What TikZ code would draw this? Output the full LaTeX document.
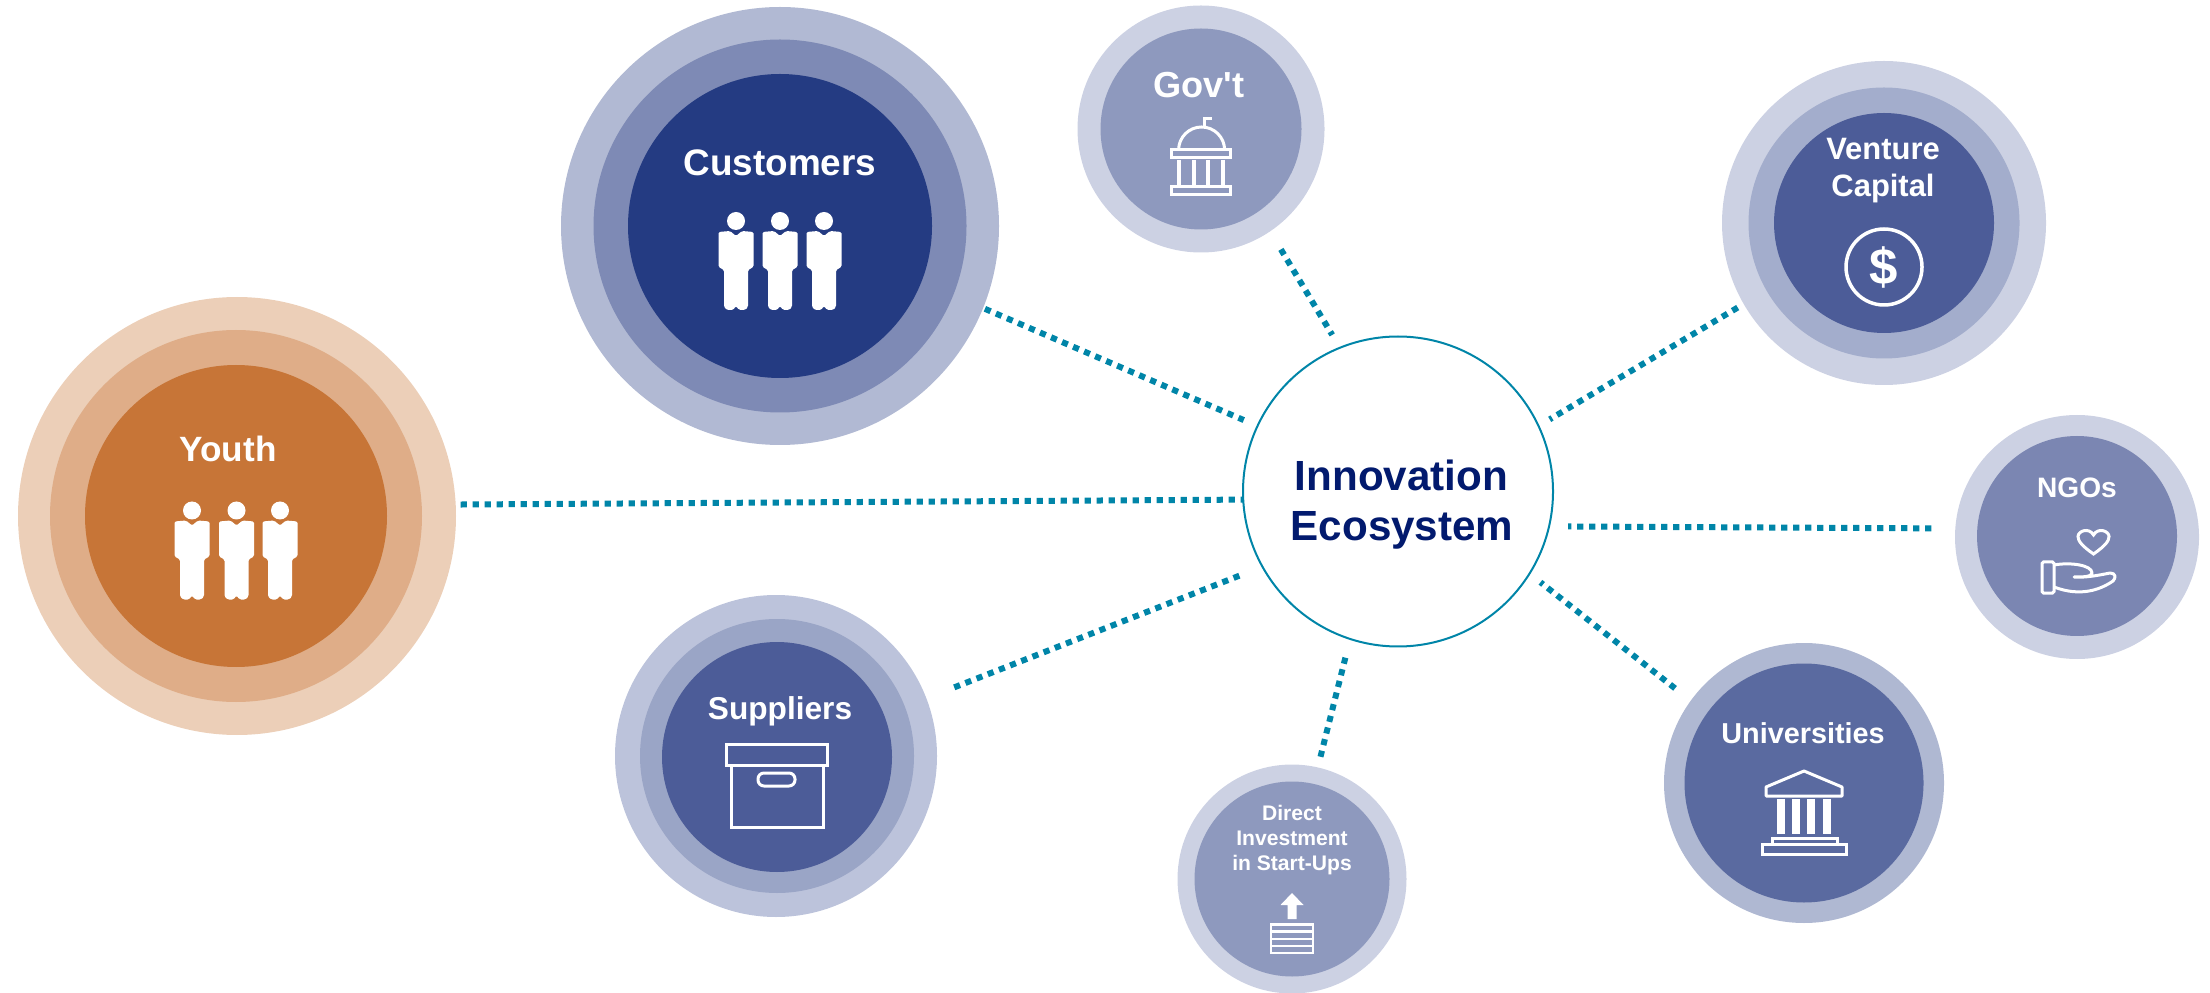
\documentclass[tikz,border=0pt]{standalone}
\usepackage{fontspec}
\setmainfont{Liberation Sans}
\usetikzlibrary{positioning}

\definecolor{linkblue}{HTML}{0085A8}
\definecolor{hubtext}{HTML}{021A6E}
\definecolor{youthA}{HTML}{ECCFB8}
\definecolor{youthB}{HTML}{DFAD88}
\definecolor{youthC}{HTML}{C77537}
\definecolor{custA}{HTML}{B1B9D3}
\definecolor{custB}{HTML}{7E8AB5}
\definecolor{custC}{HTML}{243B82}
\definecolor{paleA}{HTML}{CCD1E3}
\definecolor{paleB}{HTML}{8E99BE}
\definecolor{midB}{HTML}{A3ADCC}
\definecolor{midC}{HTML}{4C5C98}
\definecolor{ngoB}{HTML}{7B86B2}
\definecolor{suppA}{HTML}{BCC3DB}
\definecolor{suppB}{HTML}{9AA5C6}
\definecolor{uniA}{HTML}{AFB8D2}
\definecolor{uniB}{HTML}{5A6AA0}

\tikzset{
  ring/.style = {circle, inner sep=0pt, outer sep=0pt, minimum size=#1},
  link/.style = {draw=linkblue, line width=0.6mm, dash pattern=on 0.62mm off 0.58mm},
  iconline/.style = {draw=white, line width=0.3mm},
  lbl/.style = {text=white, font=\bfseries\fontsize{#1}{#1}\selectfont, inner sep=0pt, anchor=base},
  person/.pic = {
    \fill[white] (0,0) circle (9);
    \fill[white, rounded corners=0.15mm] (0,15) -- (-6,10) -- (-17.5,11) -- (-17.5,46) -- (-12,49)
      -- (-12,86) -- (-9,89) -- (-3,89) -- (0,85) -- (3,89) -- (9,89) -- (12,86)
      -- (12,49) -- (17.5,46) -- (17.5,11) -- (6,10) -- cycle;
  }
}

\begin{document}
\begin{tikzpicture}[x=0.1mm, y=-0.1mm]
   \useasboundingbox (0,0) rectangle (2210,993);

   % youth
   \node (youth)[ring=43.8mm, fill=youthA] at (237,516) {};
   \node (youthmid)[ring=37.2mm, fill=youthB] at (236,516) {};
   \node (youthcore)[ring=30.2mm, fill=youthC] at (236,516) {};
   \node (youthtext)[lbl=10pt] at (228,462) {Youth};
   \foreach \px in {192,236.5,280} \pic at (\px,510.5) {person};

   % customers
   \node (customers)[ring=43.8mm, fill=custA] at (780,226) {};
   \node (customersmid)[ring=37.3mm, fill=custB] at (780,226) {};
   \node (customerscore)[ring=30.4mm, fill=custC] at (780,226) {};
   \node (customerstext)[lbl=10.5pt] at (780,176) {Customers};
   \foreach \px in {736,780,824} \pic at (\px,221) {person};

   % gov
   \node (gov)[ring=24.7mm, fill=paleA] at (1201,129) {};
   \node (govcore)[ring=20.1mm, fill=paleB] at (1201,129) {};
   \node (govtext)[lbl=10.3pt] at (1199,98) {Gov\textquotesingle t};
   \draw[iconline] (1178.6,150) arc[start angle=180, end angle=360, x radius=23, y radius=23];
   \draw[iconline] (1204,127) -- (1204,119) -- (1212,119);
   \draw[iconline] (1171.5,150) rectangle (1230,158);
   \draw[iconline] (1171.5,187) rectangle (1230,195);
   \foreach \px in {1179,1194,1208,1222.5} \draw[iconline, line width=0.4mm] (\px,160) -- (\px,185);

   % venture capital
   \node (venture)[ring=32.4mm, fill=paleA] at (1884,223) {};
   \node (venturemid)[ring=27.1mm, fill=midB] at (1884,223) {};
   \node (venturecore)[ring=22mm, fill=midC] at (1884,223) {};
   \node (venturetext)[lbl=8.8pt, align=center] at (1883,197) {Venture\\[2pt]Capital};
   \node (dollarring)[ring=7.6mm, draw=white, line width=0.35mm] at (1884,267) {};
   \node (dollar)[text=white, font=\bfseries\fontsize{14.5}{14.5}\selectfont, inner sep=0pt] at (dollarring) {\$};

   % ngos
   \node (ngos)[ring=24.4mm, fill=paleA] at (2077,537) {};
   \node (ngoscore)[ring=20mm, fill=ngoB] at (2077,536) {};
   \node (ngostext)[lbl=8pt] at (2077,498) {NGOs};
   \draw[iconline] (2093.5,554) .. controls (2082,546) and (2078,541) .. (2078,536.5)
      .. controls (2078,531) and (2089,527) .. (2093.5,535)
      .. controls (2098,527) and (2109,531) .. (2109,536.5)
      .. controls (2109,541) and (2105,546) .. (2093.5,554) -- cycle;
   \draw[iconline, rounded corners=0.15mm] (2042,562) rectangle (2054,593);
   \draw[iconline, line join=round] (2054,565) .. controls (2070,562) and (2092,565) .. (2092,573)
      .. controls (2092,577) and (2082,577) .. (2074,577)
      .. controls (2085,578) and (2100,575) .. (2110,573)
      .. controls (2116,573) and (2116,578) .. (2113,581)
      .. controls (2100,590) and (2080,597) .. (2054,587);

   % universities
   \node (universities)[ring=28mm, fill=uniA] at (1804,783) {};
   \node (universitiescore)[ring=23.9mm, fill=uniB] at (1804,783) {};
   \node (universitiestext)[lbl=8.2pt] at (1803,743) {Universities};
   \draw[iconline, line join=round] (1804,771) -- (1766,787) -- (1766,796) -- (1842,796) -- (1842,787) -- cycle;
   \foreach \px in {1777,1792,1807,1823} \fill[white] (\px,799) rectangle +(8,35);
   \draw[iconline] (1772,844) -- (1772,838) -- (1837,838) -- (1837,844);
   \draw[iconline] (1762,844) rectangle (1846,854);

   % direct investment
   \node (direct)[ring=22.9mm, fill=paleA] at (1292,879) {};
   \node (directcore)[ring=19.5mm, fill=paleB] at (1292,879) {};
   \node (directtext)[lbl=6pt, align=center] at (1292,870) {Direct\\[1.1pt]Investment\\[1.1pt]in Start-Ups};
   \fill[white] (1292,893) -- (1303.5,905) -- (1296.5,905) -- (1296.5,919) -- (1287.5,919) -- (1287.5,905) -- (1280.5,905) -- cycle;
   \draw[iconline, line width=0.25mm] (1271,924.5) rectangle (1313,953);
   \foreach \py in {931.6,939,946} \draw[iconline, line width=0.25mm] (1271,\py) -- (1313,\py);

   % suppliers
   \node (suppliers)[ring=32.2mm, fill=suppA] at (776,756) {};
   \node (suppliersmid)[ring=27.4mm, fill=suppB] at (777,756) {};
   \node (supplierscore)[ring=23mm, fill=midC] at (777,757) {};
   \node (supplierstext)[lbl=9pt] at (780,719) {Suppliers};
   \draw[iconline] (726,744) rectangle (827,765);
   \draw[iconline] (731,765) rectangle (823,827);
   \draw[iconline, rounded corners=0.6mm] (758,773) rectangle (795,786);

   % hub
   \node (hub)[ring=31mm, draw=linkblue, line width=0.2mm, fill=white] at (1398,491.5) {};
   \node (hubtextA)[text=hubtext, font=\bfseries\fontsize{12}{12}\selectfont, inner sep=0pt, anchor=base] at (1401.5,491) {Innovation};
   \node (hubtextB)[text=hubtext, font=\bfseries\fontsize{12}{12}\selectfont, inner sep=0pt, anchor=base] at (1402,541) {Ecosystem};

   \draw[link, shorten <=0.5mm] (youth.3) -- (hub.183.5);
   \draw[link, shorten <=0.2mm, shorten >=1.5mm] (customers.338) -- (hub.155.5);
   \draw[link, shorten <=2.1mm, shorten >=1.5mm] (gov.304.9) -- (hub.112.9);
   \draw[link, shorten <=0.7mm, shorten >=1.3mm] (venture.210.5) -- (hub.25.2);
   \draw[link, shorten <=2.4mm, shorten >=1.9mm] (ngos.176.9) -- (hub.347.2);
   \draw[link, shorten <=2mm, shorten >=1.4mm] (universities.144) -- (hub.328.9);
   \draw[link, shorten <=1.1mm, shorten >=1.5mm] (direct.77.5) -- (hub.252.2);
   \draw[link, shorten <=3mm, shorten >=2mm] (suppliers.21.3) -- (hub.209.6);
\end{tikzpicture}
\end{document}
